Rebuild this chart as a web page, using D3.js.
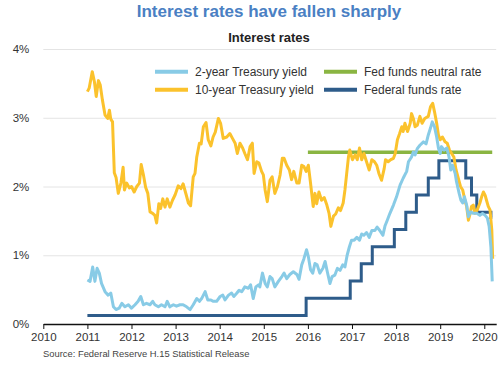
<!DOCTYPE html>
<html>
<head>
<meta charset="utf-8">
<script src="https://cdn.jsdelivr.net/npm/d3@7"></script>
<style>
  html, body { margin: 0; padding: 0; background: #fff; }
  svg { display: block; font-family: "Liberation Sans", Arial, sans-serif; }
</style>
</head>
<body>
<svg id="chart" width="500" height="365"></svg>
<script>
// ---- Data (decimal year, percent) ----
const tenYear = [
  [2011.00,3.38],[2011.04,3.43],[2011.11,3.67],[2011.16,3.52],[2011.20,3.31],[2011.25,3.54],[2011.29,3.48],
  [2011.34,3.26],[2011.40,3.04],[2011.46,2.99],[2011.50,3.11],[2011.53,2.98],[2011.57,2.94],[2011.61,2.20],
  [2011.65,2.13],[2011.70,1.90],[2011.76,2.05],[2011.81,2.28],[2011.84,1.95],[2011.89,2.05],[2011.95,1.98],
  [2012.00,2.00],[2012.06,1.92],[2012.12,2.00],[2012.18,2.05],[2012.22,2.32],[2012.27,2.17],[2012.32,1.99],
  [2012.37,1.90],[2012.42,1.63],[2012.48,1.61],[2012.53,1.58],[2012.57,1.47],[2012.62,1.75],[2012.66,1.68],
  [2012.71,1.82],[2012.76,1.70],[2012.81,1.82],[2012.87,1.70],[2012.93,1.80],[2012.99,1.88],[2013.06,2.01],
  [2013.12,1.97],[2013.17,2.04],[2013.24,1.88],[2013.29,1.76],[2013.34,1.72],[2013.40,2.14],[2013.44,2.19],
  [2013.48,2.43],[2013.54,2.63],[2013.58,2.62],[2013.63,2.87],[2013.69,2.93],[2013.74,2.68],[2013.80,2.59],
  [2013.85,2.72],[2013.90,2.79],[2013.97,2.99],[2014.02,2.92],[2014.08,2.70],[2014.16,2.72],[2014.23,2.77],
  [2014.29,2.70],[2014.35,2.63],[2014.40,2.48],[2014.46,2.63],[2014.52,2.56],[2014.57,2.48],[2014.63,2.39],
  [2014.69,2.58],[2014.74,2.63],[2014.78,2.19],[2014.84,2.36],[2014.89,2.34],[2014.95,2.22],[2014.99,2.17],
  [2015.03,1.95],[2015.08,1.78],[2015.14,2.09],[2015.19,2.14],[2015.25,1.90],[2015.31,2.00],[2015.37,2.17],
  [2015.42,2.41],[2015.46,2.41],[2015.52,2.31],[2015.58,2.24],[2015.63,2.10],[2015.68,2.22],[2015.75,2.05],
  [2015.80,2.05],[2015.86,2.31],[2015.91,2.29],[2015.96,2.22],[2016.01,2.31],[2016.06,2.05],[2016.12,1.71],
  [2016.16,1.90],[2016.20,1.75],[2016.25,1.92],[2016.31,1.80],[2016.37,1.84],[2016.43,1.73],[2016.48,1.61],
  [2016.52,1.42],[2016.58,1.57],[2016.63,1.60],[2016.69,1.69],[2016.74,1.65],[2016.80,1.76],[2016.84,1.95],
  [2016.88,2.19],[2016.92,2.43],[2016.95,2.53],[2017.01,2.39],[2017.07,2.46],[2017.12,2.39],[2017.17,2.56],
  [2017.22,2.39],[2017.27,2.48],[2017.33,2.36],[2017.39,2.24],[2017.45,2.39],[2017.51,2.36],[2017.56,2.31],
  [2017.61,2.19],[2017.67,2.09],[2017.73,2.26],[2017.76,2.39],[2017.82,2.36],[2017.88,2.39],[2017.94,2.41],
  [2017.98,2.48],[2018.03,2.68],[2018.08,2.77],[2018.13,2.87],[2018.16,2.80],[2018.20,2.92],[2018.26,2.80],
  [2018.32,2.92],[2018.35,3.06],[2018.39,2.99],[2018.43,2.87],[2018.48,2.89],[2018.54,3.02],[2018.59,2.92],
  [2018.65,2.99],[2018.73,3.02],[2018.78,3.16],[2018.83,3.21],[2018.87,3.09],[2018.92,2.92],[2018.96,2.75],
  [2019.00,2.68],[2019.05,2.72],[2019.11,2.65],[2019.16,2.63],[2019.21,2.53],[2019.26,2.48],[2019.31,2.43],
  [2019.36,2.24],[2019.41,2.12],[2019.46,2.00],[2019.51,1.95],[2019.56,1.80],[2019.60,1.71],[2019.64,1.51],
  [2019.68,1.61],[2019.71,1.71],[2019.75,1.73],[2019.79,1.61],[2019.84,1.66],[2019.90,1.76],[2019.94,1.85],
  [2019.98,1.92],[2020.02,1.87],[2020.05,1.80],[2020.09,1.71],[2020.13,1.66],[2020.17,1.37],[2020.19,0.95]
];

const twoYear = [
  [2011.00,0.64],[2011.06,0.62],[2011.12,0.83],[2011.17,0.62],[2011.22,0.81],[2011.27,0.74],[2011.32,0.59],
  [2011.40,0.47],[2011.47,0.42],[2011.53,0.45],[2011.59,0.25],[2011.65,0.21],[2011.72,0.23],[2011.78,0.30],
  [2011.85,0.25],[2011.93,0.28],[2012.00,0.23],[2012.08,0.28],[2012.15,0.33],[2012.21,0.40],[2012.27,0.28],
  [2012.34,0.30],[2012.42,0.28],[2012.48,0.33],[2012.53,0.28],[2012.61,0.25],[2012.68,0.28],[2012.76,0.25],
  [2012.81,0.33],[2012.87,0.25],[2012.95,0.28],[2013.02,0.26],[2013.10,0.28],[2013.17,0.28],[2013.25,0.25],
  [2013.33,0.21],[2013.40,0.28],[2013.48,0.37],[2013.54,0.33],[2013.59,0.37],[2013.67,0.47],[2013.73,0.35],
  [2013.80,0.35],[2013.85,0.33],[2013.93,0.33],[2014.01,0.40],[2014.07,0.42],[2014.12,0.35],[2014.20,0.42],
  [2014.27,0.45],[2014.32,0.40],[2014.39,0.45],[2014.44,0.49],[2014.50,0.47],[2014.57,0.54],[2014.65,0.52],
  [2014.70,0.57],[2014.76,0.37],[2014.82,0.54],[2014.88,0.57],[2014.91,0.54],[2014.97,0.74],[2015.03,0.59],
  [2015.08,0.54],[2015.14,0.69],[2015.19,0.66],[2015.25,0.54],[2015.33,0.62],[2015.41,0.69],[2015.46,0.74],
  [2015.52,0.66],[2015.59,0.72],[2015.67,0.76],[2015.75,0.72],[2015.80,0.65],[2015.86,0.86],[2015.91,0.95],
  [2015.97,1.08],[2016.01,0.98],[2016.06,0.79],[2016.11,0.74],[2016.16,0.88],[2016.21,0.86],[2016.27,0.74],
  [2016.34,0.81],[2016.39,0.91],[2016.44,0.76],[2016.50,0.59],[2016.55,0.69],[2016.61,0.71],[2016.67,0.81],
  [2016.73,0.78],[2016.79,0.86],[2016.84,0.83],[2016.89,1.00],[2016.94,1.12],[2016.99,1.22],[2017.05,1.22],
  [2017.11,1.26],[2017.17,1.22],[2017.22,1.31],[2017.27,1.29],[2017.33,1.33],[2017.39,1.26],[2017.45,1.36],
  [2017.52,1.36],[2017.57,1.41],[2017.63,1.36],[2017.70,1.29],[2017.75,1.43],[2017.80,1.51],[2017.86,1.61],
  [2017.94,1.73],[2018.01,1.85],[2018.09,2.02],[2018.16,2.12],[2018.24,2.22],[2018.28,2.36],[2018.35,2.43],
  [2018.39,2.50],[2018.43,2.46],[2018.48,2.55],[2018.54,2.60],[2018.62,2.65],[2018.68,2.62],[2018.73,2.75],
  [2018.78,2.85],[2018.82,2.94],[2018.87,2.87],[2018.92,2.72],[2018.96,2.56],[2019.00,2.48],[2019.03,2.58],
  [2019.09,2.53],[2019.15,2.56],[2019.20,2.43],[2019.24,2.24],[2019.28,2.31],[2019.34,2.19],[2019.37,2.07],
  [2019.43,1.90],[2019.47,1.80],[2019.51,1.76],[2019.55,1.85],[2019.60,1.73],[2019.64,1.56],[2019.69,1.63],
  [2019.75,1.61],[2019.83,1.61],[2019.90,1.58],[2019.96,1.61],[2020.02,1.58],[2020.07,1.54],[2020.11,1.42],
  [2020.15,1.12],[2020.18,0.62]
];

const fedFunds = [
  [2011.00,0.125],[2015.96,0.375],[2016.96,0.625],[2017.21,0.875],[2017.46,1.125],[2017.96,1.375],
  [2018.22,1.625],[2018.46,1.875],[2018.73,2.125],[2018.97,2.375],[2019.58,2.125],[2019.71,1.875],
  [2019.83,1.625],[2020.15,1.55],[2020.18,1.55]
];

const neutralRate = [[2016.00,2.5],[2020.18,2.5]];

const yTicks = [0, 1, 2, 3, 4];
const xTicks = [2010, 2011, 2012, 2013, 2014, 2015, 2016, 2017, 2018, 2019, 2020];

const legendItems = [
  { label: "2-year Treasury yield", color: "#88cbe6", col: 0, row: 0 },
  { label: "10-year Treasury yield", color: "#fbc22c", col: 0, row: 1 },
  { label: "Fed funds neutral rate", color: "#8ab542", col: 1, row: 0 },
  { label: "Federal funds rate", color: "#2e5c8a", col: 1, row: 1 }
];

// ---- Chart ----
const svg = d3.select("#chart");
const x = d3.scaleLinear().domain([2010, 2020.27]).range([43.3, 496.2]);
const y = d3.scaleLinear().domain([0, 4]).range([324, 49]);

svg.append("text")
  .attr("x", 269).attr("y", 17)
  .attr("text-anchor", "middle")
  .attr("font-size", 17).attr("font-weight", "bold")
  .attr("fill", "#4a80c3")
  .text("Interest rates have fallen sharply");

svg.append("text")
  .attr("x", 269).attr("y", 42)
  .attr("text-anchor", "middle")
  .attr("font-size", 13).attr("font-weight", "bold")
  .attr("fill", "#222")
  .text("Interest rates");

// gridlines + y labels
const yAxis = svg.append("g")
  .attr("transform", "translate(43.3,0)")
  .call(d3.axisLeft(y).tickValues(yTicks).tickFormat(d => d + "%").tickSize(-(496.2 - 43.3)).tickPadding(14));
yAxis.select(".domain").remove();
yAxis.selectAll(".tick line").attr("stroke", "#e4e4e4").attr("stroke-width", 1)
  .filter(d => d === 0).remove();
yAxis.selectAll(".tick text").attr("font-size", 11.5).attr("fill", "#333").attr("font-family", "Liberation Sans, Arial, sans-serif");

// x axis
const xAxis = svg.append("g")
  .attr("transform", "translate(0,324)")
  .call(d3.axisBottom(x).tickValues(xTicks).tickFormat(d3.format("d")).tickSize(5).tickSizeOuter(0).tickPadding(4));
xAxis.select(".domain").attr("stroke", "#111").attr("stroke-width", 1.5);
xAxis.selectAll(".tick line").attr("stroke", "#111").attr("stroke-width", 1);
xAxis.selectAll(".tick text").attr("font-size", 11.5).attr("fill", "#333").attr("font-family", "Liberation Sans, Arial, sans-serif");

const line = d3.line().x(d => x(d[0])).y(d => y(d[1]));
const stepLine = d3.line().x(d => x(d[0])).y(d => y(d[1])).curve(d3.curveStepAfter);

svg.append("path").datum(neutralRate)
  .attr("d", line).attr("fill", "none").attr("stroke", "#8ab542").attr("stroke-width", 3.5);

svg.append("path").datum(fedFunds)
  .attr("d", stepLine).attr("fill", "none").attr("stroke", "#2e5c8a").attr("stroke-width", 3)
  .attr("stroke-linejoin", "miter");

svg.append("path").datum(tenYear)
  .attr("d", line).attr("fill", "none").attr("stroke", "#fbc22c").attr("stroke-width", 3)
  .attr("stroke-linejoin", "round");

svg.append("path").datum(twoYear)
  .attr("d", line).attr("fill", "none").attr("stroke", "#88cbe6").attr("stroke-width", 3)
  .attr("stroke-linejoin", "round");

// legend
const lg = svg.append("g").selectAll("g").data(legendItems).join("g")
  .attr("transform", d => `translate(${d.col === 0 ? 155 : 324},${71.7 + d.row * 18})`);
lg.append("line").attr("x1", 0).attr("x2", 33).attr("y1", 0).attr("y2", 0)
  .attr("stroke", d => d.color).attr("stroke-width", 4);
lg.append("text").attr("x", 40).attr("y", 4.2)
  .attr("font-size", 12).attr("fill", "#333").text(d => d.label);

// source
svg.append("text")
  .attr("x", 43).attr("y", 356.5)
  .attr("font-size", 9.4).attr("fill", "#444")
  .text("Source: Federal Reserve H.15 Statistical Release");
</script>
</body>
</html>
